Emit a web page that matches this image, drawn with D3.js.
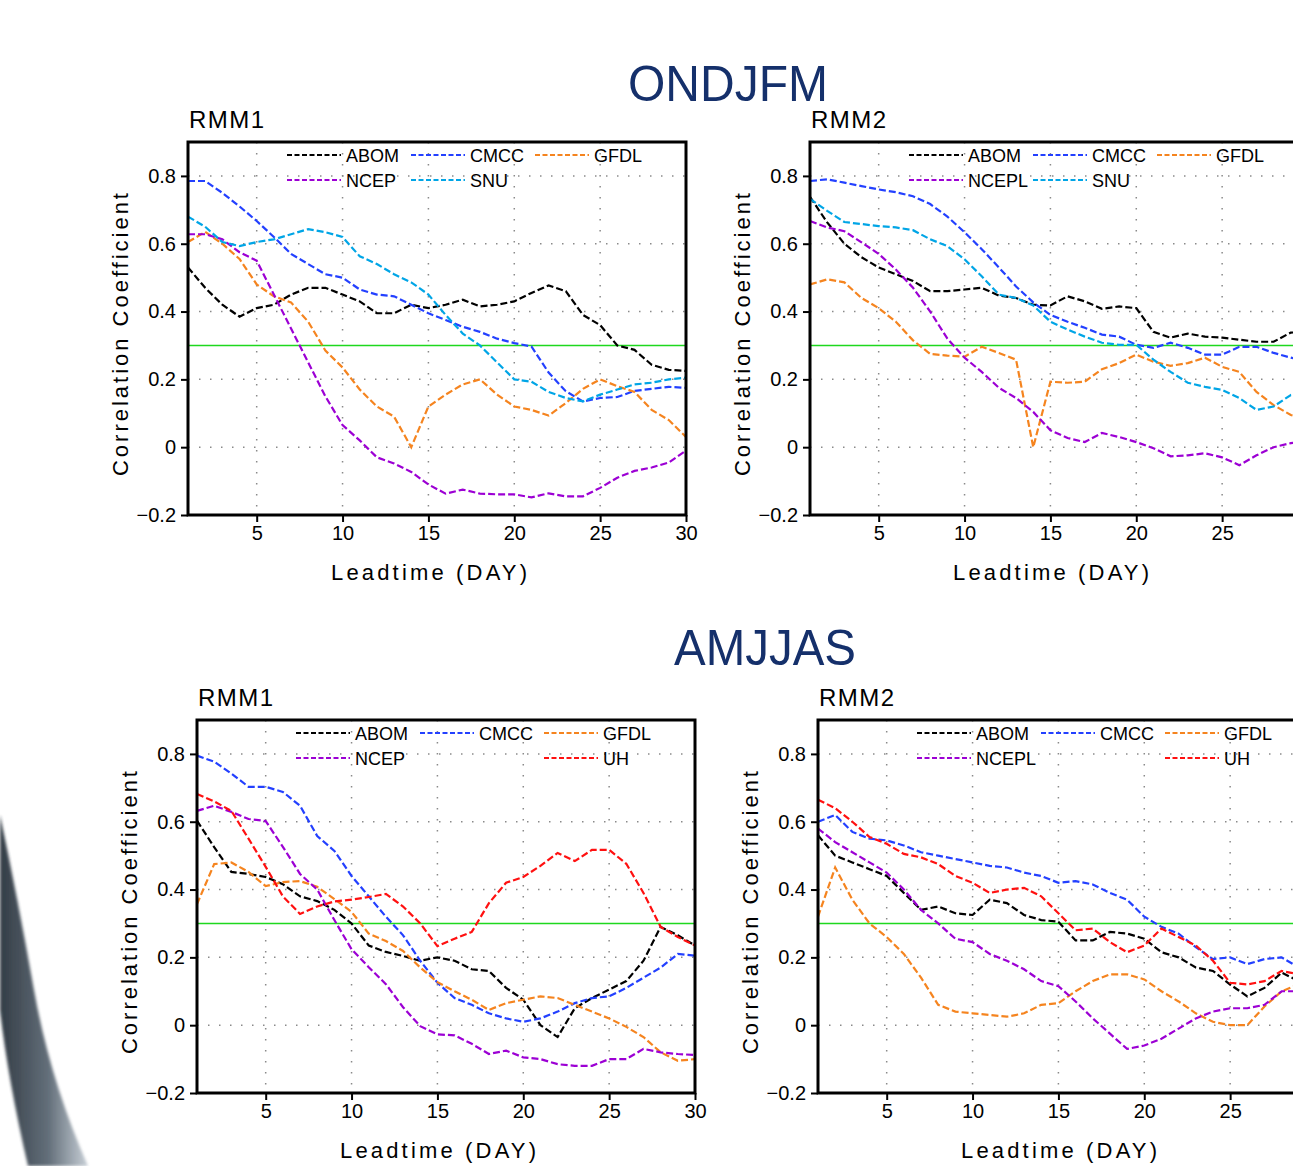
<!DOCTYPE html>
<html>
<head>
<meta charset="utf-8">
<style>
    body { margin: 0; background: white; }
    svg { display: block; font-family: 'Liberation Sans', Arial, sans-serif; }
    .axis path.domain { display: none; }
    .axis line { stroke: black; stroke-width: 2; }
    .axis text { font-size: 20px; fill: black; font-family: 'Liberation Sans', Arial, sans-serif; }
</style>
</head>
<body>
<svg width="1293" height="1166"></svg>

<script src="https://d3js.org/d3.v7.min.js"></script>
<script>
    const days = d3.range(1, 31);
    const xTicks = [5, 10, 15, 20, 25, 30];
    const yTicks = [-0.2, 0, 0.2, 0.4, 0.6, 0.8];
    const yTickLabels = ["\u22120.2", "0", "0.2", "0.4", "0.6", "0.8"];
    const gridX = [5, 10, 15, 20, 25];
    const gridY = [0, 0.2, 0.4, 0.6, 0.8];
    const threshold = 0.3;

    // ONDJFM RMM1
    const ond1_ABOM = [0.53,0.47,0.42,0.385,0.41,0.42,0.45,0.47,0.47,0.45,0.43,0.395,0.395,0.42,0.41,0.42,0.435,0.415,0.42,0.43,0.455,0.477,0.46,0.39,0.36,0.30,0.287,0.243,0.228,0.225];
    const ond1_CMCC = [0.785,0.785,0.75,0.71,0.667,0.62,0.57,0.54,0.51,0.50,0.465,0.45,0.445,0.42,0.395,0.375,0.355,0.34,0.32,0.307,0.297,0.22,0.165,0.135,0.145,0.148,0.166,0.172,0.178,0.175];
    const ond1_GFDL = [0.605,0.635,0.60,0.555,0.48,0.445,0.427,0.37,0.285,0.235,0.17,0.12,0.09,0.0,0.12,0.155,0.185,0.2,0.155,0.12,0.11,0.093,0.13,0.172,0.2,0.18,0.163,0.11,0.08,0.03];
    const ond1_NCEP = [0.628,0.628,0.613,0.575,0.55,0.45,0.35,0.25,0.15,0.065,0.02,-0.03,-0.048,-0.073,-0.11,-0.137,-0.125,-0.137,-0.139,-0.139,-0.148,-0.136,-0.145,-0.145,-0.12,-0.09,-0.07,-0.06,-0.045,-0.01];
    const ond1_SNU = [0.68,0.65,0.605,0.593,0.605,0.613,0.628,0.643,0.634,0.62,0.563,0.54,0.51,0.486,0.45,0.39,0.335,0.30,0.25,0.20,0.193,0.163,0.145,0.135,0.155,0.17,0.185,0.19,0.2,0.205];

    // ONDJFM RMM2
    const ond2_ABOM = [0.738,0.663,0.6,0.56,0.53,0.51,0.49,0.46,0.46,0.465,0.47,0.447,0.44,0.42,0.418,0.445,0.43,0.408,0.415,0.41,0.34,0.323,0.335,0.326,0.323,0.317,0.311,0.311,0.338,0.34];
    const ond2_CMCC = [0.785,0.79,0.78,0.77,0.76,0.752,0.74,0.717,0.68,0.634,0.584,0.53,0.474,0.427,0.39,0.37,0.352,0.332,0.326,0.302,0.293,0.308,0.293,0.273,0.273,0.296,0.296,0.278,0.264,0.255];
    const ond2_GFDL = [0.48,0.495,0.486,0.44,0.41,0.37,0.315,0.275,0.27,0.267,0.296,0.278,0.258,0.0,0.193,0.19,0.193,0.23,0.248,0.273,0.252,0.24,0.248,0.264,0.237,0.222,0.163,0.124,0.095,0.08];
    const ond2_NCEPL = [0.667,0.648,0.637,0.604,0.57,0.524,0.47,0.4,0.32,0.264,0.222,0.175,0.145,0.104,0.05,0.027,0.015,0.042,0.03,0.015,-0.003,-0.027,-0.024,-0.018,-0.03,-0.053,-0.024,0.0,0.012,0.02];
    const ond2_SNU = [0.732,0.697,0.664,0.658,0.652,0.648,0.64,0.613,0.593,0.554,0.504,0.45,0.44,0.418,0.37,0.347,0.326,0.308,0.302,0.302,0.258,0.222,0.19,0.178,0.169,0.145,0.11,0.12,0.154,0.16];

    // AMJJAS RMM1
    const amj1_ABOM = [0.603,0.525,0.452,0.446,0.437,0.416,0.38,0.366,0.34,0.30,0.235,0.216,0.204,0.19,0.2,0.19,0.165,0.16,0.11,0.075,0.0,-0.035,0.05,0.08,0.105,0.13,0.19,0.29,0.265,0.235];
    const amj1_CMCC = [0.795,0.777,0.742,0.703,0.703,0.688,0.647,0.558,0.514,0.44,0.38,0.32,0.265,0.19,0.125,0.08,0.06,0.035,0.02,0.01,0.02,0.04,0.065,0.08,0.085,0.11,0.14,0.17,0.21,0.205];
    const amj1_GFDL = [0.357,0.475,0.48,0.452,0.41,0.422,0.425,0.408,0.372,0.334,0.27,0.248,0.219,0.17,0.127,0.1,0.075,0.045,0.065,0.075,0.085,0.08,0.06,0.04,0.02,-0.005,-0.035,-0.08,-0.105,-0.1];
    const amj1_NCEP = [0.632,0.647,0.629,0.608,0.602,0.526,0.446,0.40,0.31,0.224,0.171,0.121,0.053,-0.003,-0.027,-0.03,-0.055,-0.085,-0.075,-0.095,-0.1,-0.115,-0.12,-0.12,-0.1,-0.1,-0.07,-0.08,-0.085,-0.088];
    const amj1_UH = [0.682,0.66,0.632,0.55,0.467,0.38,0.328,0.35,0.365,0.37,0.378,0.387,0.35,0.30,0.233,0.255,0.275,0.36,0.42,0.437,0.47,0.508,0.484,0.517,0.517,0.476,0.39,0.29,0.26,0.235];

    // AMJJAS RMM2
    const amj2_ABOM = [0.56,0.5,0.48,0.46,0.44,0.39,0.34,0.35,0.33,0.325,0.37,0.36,0.325,0.31,0.305,0.25,0.25,0.275,0.27,0.255,0.215,0.2,0.17,0.16,0.12,0.085,0.11,0.155,0.13,0.12];
    const amj2_CMCC = [0.6,0.62,0.57,0.55,0.545,0.53,0.51,0.5,0.49,0.48,0.47,0.465,0.45,0.44,0.42,0.425,0.415,0.39,0.37,0.32,0.29,0.27,0.23,0.195,0.2,0.18,0.195,0.2,0.17,0.16];
    const amj2_GFDL = [0.32,0.465,0.37,0.3,0.26,0.21,0.14,0.06,0.04,0.035,0.03,0.025,0.035,0.06,0.065,0.1,0.13,0.15,0.15,0.135,0.1,0.07,0.035,0.01,0.0,0.0,0.055,0.1,0.12,0.12];
    const amj2_NCEPL = [0.58,0.54,0.51,0.48,0.45,0.4,0.34,0.3,0.255,0.245,0.21,0.19,0.165,0.13,0.115,0.07,0.02,-0.025,-0.07,-0.06,-0.04,-0.01,0.02,0.04,0.05,0.05,0.06,0.1,0.1,0.09];
    const amj2_UH = [0.665,0.64,0.6,0.555,0.535,0.505,0.495,0.475,0.44,0.42,0.39,0.4,0.405,0.38,0.33,0.28,0.285,0.245,0.215,0.235,0.285,0.26,0.235,0.19,0.125,0.12,0.13,0.16,0.15,0.15];

    const colors = {
        ABOM: "#000000", CMCC: "#2340ff", GFDL: "#f5841f",
        NCEP: "#9c00d4", NCEPL: "#9c00d4", SNU: "#00a5e6", UH: "#ff1010"
    };

    const pageWidth = 1293;
    let svg = d3.select("svg");

    // decorative brush stroke on the lower left
    let defs = svg.append("defs");
    let grad = defs.append("linearGradient").attr("id", "swoosh")
        .attr("x1", 0).attr("y1", 0).attr("x2", 1).attr("y2", 0);
    grad.append("stop").attr("offset", "0%").attr("stop-color", "#222c36");
    grad.append("stop").attr("offset", "55%").attr("stop-color", "#56636f");
    grad.append("stop").attr("offset", "100%").attr("stop-color", "#c4ccd4");
    defs.append("filter").attr("id", "soft").append("feGaussianBlur").attr("stdDeviation", 1.5);
    svg.append("path")
        .attr("d", "M0,815 Q18,900 34,990 Q50,1080 88,1166 L28,1166 Q8,1080 0,1010 Z")
        .attr("fill", "url(#swoosh)")
        .attr("opacity", 0.92)
        .attr("filter", "url(#soft)");

    // section titles
    svg.append("text").attr("x", 728).attr("y", 101).attr("text-anchor", "middle")
        .attr("font-size", 50).attr("fill", "#15306b")
        .attr("textLength", 200).attr("lengthAdjust", "spacingAndGlyphs")
        .text("ONDJFM");
    svg.append("text").attr("x", 765).attr("y", 665).attr("text-anchor", "middle")
        .attr("font-size", 50).attr("fill", "#15306b")
        .attr("textLength", 182).attr("lengthAdjust", "spacingAndGlyphs")
        .text("AMJJAS");

    const W = 498, H = 373;
    const legendCols = [99, 223, 347];

    function drawPanel(left, top, title, series) {
        let x = d3.scaleLinear().domain([1, 30]).range([left, left + W]);
        let y = d3.scaleLinear().domain([-0.2, 0.9]).range([top + H, top]);
        let g = svg.append("g");

        // dotted grid
        g.selectAll(".gx").data(gridX).join("line")
            .attr("x1", d => x(d)).attr("x2", d => x(d))
            .attr("y1", top).attr("y2", top + H)
            .attr("stroke", "#8a8a8a").attr("stroke-width", 1.5)
            .attr("stroke-dasharray", "1.5,9.5");
        g.selectAll(".gy").data(gridY).join("line")
            .attr("x1", left).attr("x2", left + W)
            .attr("y1", d => y(d)).attr("y2", d => y(d))
            .attr("stroke", "#8a8a8a").attr("stroke-width", 1.5)
            .attr("stroke-dasharray", "1.5,9.5");

        // significance line
        g.append("line")
            .attr("x1", left).attr("x2", left + W)
            .attr("y1", y(threshold)).attr("y2", y(threshold))
            .attr("stroke", "#1ed81e").attr("stroke-width", 1.6);

        let line = d3.line().x((d, i) => x(days[i])).y(d => y(d));

        series.forEach(s => {
            g.append("path")
                .attr("d", line(s.values))
                .attr("fill", "none")
                .attr("stroke", colors[s.name])
                .attr("stroke-width", 2.2)
                .attr("stroke-dasharray", "7,3");

            // legend entry
            let lx = left + legendCols[s.col];
            let ly = top + (s.row === 0 ? 13 : 38);
            g.append("line")
                .attr("x1", lx).attr("x2", lx + 54)
                .attr("y1", ly).attr("y2", ly)
                .attr("stroke", colors[s.name]).attr("stroke-width", 2)
                .attr("stroke-dasharray", "5,2.5");
            g.append("text")
                .attr("x", lx + 59).attr("y", ly + 7)
                .attr("font-size", 18).attr("fill", "black")
                .text(s.name);
        });

        // axes (labels past the page edge are not shown)
        g.append("g").attr("class", "axis")
            .attr("transform", `translate(0,${top + H})`)
            .call(d3.axisBottom(x).tickValues(xTicks.filter(d => x(d) < pageWidth - 8))
                .tickSize(7).tickPadding(4));
        g.append("g").attr("class", "axis")
            .attr("transform", `translate(${left},0)`)
            .call(d3.axisLeft(y).tickValues(yTicks).tickSize(7).tickPadding(5)
                .tickFormat((d, i) => yTickLabels[i]));

        // frame
        g.append("rect")
            .attr("x", left).attr("y", top).attr("width", W).attr("height", H)
            .attr("fill", "none").attr("stroke", "black").attr("stroke-width", 3);

        // labels
        g.append("text").attr("x", left + 1).attr("y", top - 14)
            .attr("font-size", 24).attr("letter-spacing", 1.5).text(title);
        g.append("text")
            .attr("transform", `translate(${left - 60},${top + H / 2 + 6}) rotate(-90)`)
            .attr("text-anchor", "middle").attr("font-size", 22)
            .attr("textLength", 283).attr("lengthAdjust", "spacing")
            .text("Correlation Coefficient");
        g.append("text")
            .attr("x", left + W / 2 - 8).attr("y", top + H + 65)
            .attr("text-anchor", "middle").attr("font-size", 22)
            .attr("textLength", 196).attr("lengthAdjust", "spacing")
            .text("Leadtime (DAY)");
    }

    drawPanel(188, 142, "RMM1", [
        { name: "ABOM", values: ond1_ABOM, col: 0, row: 0 },
        { name: "CMCC", values: ond1_CMCC, col: 1, row: 0 },
        { name: "GFDL", values: ond1_GFDL, col: 2, row: 0 },
        { name: "NCEP", values: ond1_NCEP, col: 0, row: 1 },
        { name: "SNU", values: ond1_SNU, col: 1, row: 1 }
    ]);
    drawPanel(810, 142, "RMM2", [
        { name: "ABOM", values: ond2_ABOM, col: 0, row: 0 },
        { name: "CMCC", values: ond2_CMCC, col: 1, row: 0 },
        { name: "GFDL", values: ond2_GFDL, col: 2, row: 0 },
        { name: "NCEPL", values: ond2_NCEPL, col: 0, row: 1 },
        { name: "SNU", values: ond2_SNU, col: 1, row: 1 }
    ]);
    drawPanel(197, 720, "RMM1", [
        { name: "ABOM", values: amj1_ABOM, col: 0, row: 0 },
        { name: "CMCC", values: amj1_CMCC, col: 1, row: 0 },
        { name: "GFDL", values: amj1_GFDL, col: 2, row: 0 },
        { name: "NCEP", values: amj1_NCEP, col: 0, row: 1 },
        { name: "UH", values: amj1_UH, col: 2, row: 1 }
    ]);
    drawPanel(818, 720, "RMM2", [
        { name: "ABOM", values: amj2_ABOM, col: 0, row: 0 },
        { name: "CMCC", values: amj2_CMCC, col: 1, row: 0 },
        { name: "GFDL", values: amj2_GFDL, col: 2, row: 0 },
        { name: "NCEPL", values: amj2_NCEPL, col: 0, row: 1 },
        { name: "UH", values: amj2_UH, col: 2, row: 1 }
    ]);
</script>
</body>
</html>
